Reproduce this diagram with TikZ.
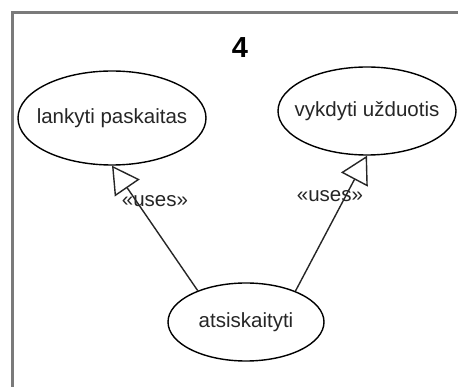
\documentclass[tikz,border=0pt]{standalone}
\usepackage{fontspec}
\setmainfont{Liberation Sans}
\usetikzlibrary{arrows.meta,shapes.geometric}
\definecolor{framegray}{RGB}{122,122,122}
\begin{document}
\begin{tikzpicture}[x=1pt,y=-1pt,
  usecase/.style={draw=black, ellipse, line width=1.4pt, inner sep=0pt, fill=white},
  ucname/.style={font=\fontsize{20.5}{23}\selectfont, text=black!85, inner sep=0pt},
  uses/.style={draw=black!85, line width=1.4pt, -{Triangle[length=27pt,width=30pt,fill=white,line width=1.4pt]}},
  stereo/.style={font=\fontsize{20.5}{23}\selectfont, text=black!85, inner sep=0pt}]
\useasboundingbox (0,0) rectangle (458,387);
\fill[white] (0,0) rectangle (458,387);
\draw[framegray, line width=3pt] (12,387) -- (12,13) -- (458,13);
\node[font=\bfseries\fontsize{29}{32}\selectfont] (title) at (240,48) {4};
\node[usecase, minimum width=188pt, minimum height=94pt] (a) at (112,118) {};
\node[ucname] (atext) at (a.center) {lankyti paskaitas};
\node[usecase, minimum width=178pt, minimum height=88pt] (b) at (367,111) {};
\node[ucname] (btext) at (b.center) {vykdyti užduotis};
\node[usecase, minimum width=156pt, minimum height=78pt] (c) at (246,322) {};
\node[ucname] (ctext) at (c.center) {atsiskaityti};
\draw[uses] (c.147) -- (a.south);
\draw[uses] (c.32) -- (b.south);
\node[stereo] (l1) at (155,201) {«uses»};
\node[stereo] (l2) at (330,196) {«uses»};
\end{tikzpicture}
\end{document}
